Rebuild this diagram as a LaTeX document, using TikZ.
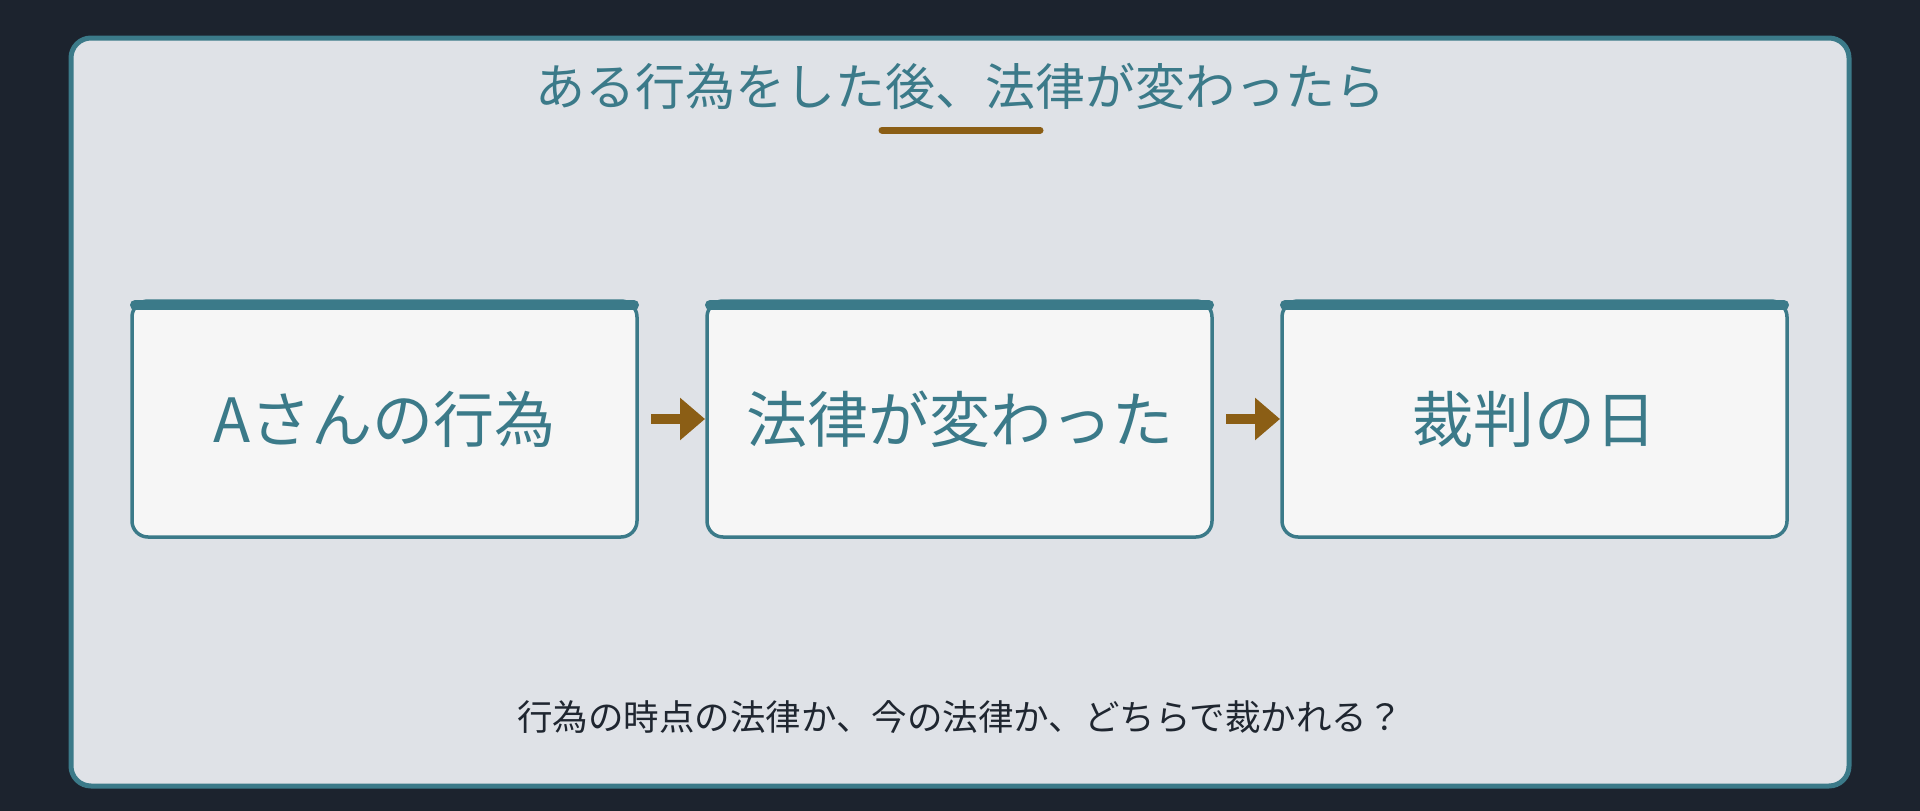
\documentclass[tikz,border=0pt]{standalone}
\usepackage{fontspec}
\setmainfont{Noto Sans CJK JP}
\usetikzlibrary{positioning,arrows.meta}
\definecolor{bgdark}{HTML}{1C232E}
\definecolor{panelgray}{HTML}{DFE2E7}
\definecolor{boxwhite}{HTML}{F6F6F6}
\definecolor{teal}{HTML}{3B7A89}
\definecolor{brown}{HTML}{8B5E15}
\definecolor{inkdark}{HTML}{1F2630}

\begin{document}
\begin{tikzpicture}[x=1pt, y=-1pt, node distance={70pt},
  stage/.style = {draw=teal, line width=3.5pt, fill=boxwhite, rounded corners=16pt,
    minimum width=505pt, minimum height=236pt, outer sep=0pt, inner sep=0pt,
    text=teal, font=\fontsize{61pt}{70pt}\selectfont},
  topbar/.style = {draw=teal, line width=10pt, line cap=round},
  flow/.style = {draw=brown, line width=10pt, -{Triangle[length=25pt, width=41pt]},
    shorten <=14pt, shorten >=2pt}]
\useasboundingbox (0,0) rectangle (1920,811);
\fill[bgdark] (0,0) rectangle (1920,811);
\draw[teal, line width=5pt, fill=panelgray, rounded corners=20pt] (71,38) rectangle (1849,786);
% title
\node[text=teal, font=\fontsize{50pt}{60pt}\selectfont] (title) at (960,86) {ある行為をした後、法律が変わったら};
\draw[brown, line width=7pt, line cap=round] (882,130) -- (1040,130);
% stages
\node[stage] (act) at (384.5,419) {Aさんの行為};
\node[stage] (law) [right=of act] {法律が変わった};
\node[stage] (trial) [right=of law] {裁判の日};
\foreach \s in {act,law,trial}
  \draw[topbar] ([shift={(3pt,-4pt)}]\s.north west) -- ([shift={(-3pt,-4pt)}]\s.north east);
\draw[flow] (act) -- (law);
\draw[flow] (law) -- (trial);
% question
\node[text=inkdark, font=\fontsize{35.5pt}{42pt}\selectfont] (ask) at (960,717) {行為の時点の法律か、今の法律か、どちらで裁かれる？};
\end{tikzpicture}
\end{document}
